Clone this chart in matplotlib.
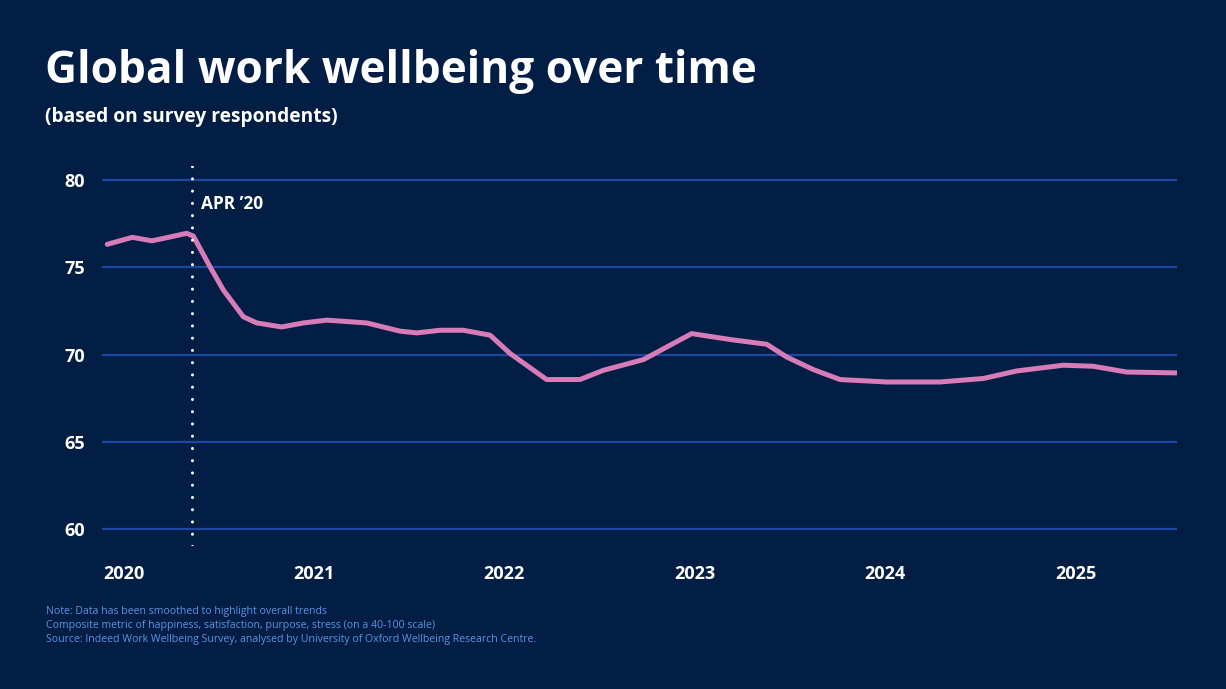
import matplotlib.pyplot as plt

# decimal years, with the wellbeing score at each vertex
years = [2019.914, 2020.046, 2020.148, 2020.235, 2020.331, 2020.366, 2020.454,
         2020.524, 2020.629, 2020.699, 2020.830, 2020.944, 2021.067, 2021.277,
         2021.452, 2021.540, 2021.662, 2021.784, 2021.925, 2022.030, 2022.222,
         2022.397, 2022.520, 2022.730, 2022.984, 2023.186, 2023.378, 2023.483,
         2023.623, 2023.763, 2024.008, 2024.288, 2024.516, 2024.691, 2024.936,
         2025.093, 2025.269, 2025.531]
score = [76.32, 76.72, 76.52, 76.72, 76.95, 76.79, 75.03,
         73.70, 72.17, 71.82, 71.59, 71.82, 71.98, 71.82,
         71.35, 71.25, 71.40, 71.40, 71.12, 70.07, 68.58,
         68.58, 69.11, 69.72, 71.21, 70.87, 70.60, 69.87,
         69.15, 68.58, 68.44, 68.44, 68.64, 69.07, 69.40,
         69.34, 69.01, 68.96]

year_ticks = [2020, 2021, 2022, 2023, 2024, 2025]
score_ticks = [60, 65, 70, 75, 80]
marker_year = 2020.361
marker_label = "APR \u201920"

title = "Global work wellbeing over time"
subtitle = "(based on survey respondents)"
notes = ["Note: Data has been smoothed to highlight overall trends",
         "Composite metric of happiness, satisfaction, purpose, stress (on a 40-100 scale)",
         "Source: Indeed Work Wellbeing Survey, analysed by University of Oxford Wellbeing Research Centre."]

bg = "#021e44"
grid_col = "#1d47a3"
pink = "#d87bb9"
note_col = "#5f91e6"

plt.rcParams['font.family'] = ['Open Sans', 'DejaVu Sans']

fig = plt.figure(figsize=(12.26, 6.89), dpi=100)
fig.set_facecolor(bg)
ax = fig.add_axes([0.083, 0.2075, 0.877, 0.5515])
ax.set_facecolor(bg)

ax.plot(years, score, color=pink, lw=3.6, solid_joinstyle='round',
        solid_capstyle='round', zorder=3)
ax.axvline(marker_year, color='white', lw=2.2, linestyle=(0, (0.01, 4)),
           dash_capstyle='round', zorder=4)
ax.annotate(marker_label, (marker_year, 78.6), xytext=(6, 0),
            textcoords='offset points', color='white', fontsize=12.5,
            fontweight='bold', va='center', ha='left')

ax.set_xlim(2019.885, 2025.533)
ax.set_ylim(59.05, 80.8)
ax.set_xticks(year_ticks)
ax.set_yticks(score_ticks)
ax.set_xticklabels([str(y) for y in year_ticks])
ax.grid(axis='y', color=grid_col, lw=1.6)
ax.set_axisbelow(True)
ax.tick_params(length=0, colors='white', labelsize=13)
ax.tick_params(axis='x', pad=14)
ax.tick_params(axis='y', pad=12)
for lab in ax.get_xticklabels() + ax.get_yticklabels():
    lab.set_fontweight('bold')
for s in ax.spines.values():
    s.set_visible(False)

fig.text(45 / 1226, 1 - 83 / 689, title, color='white', fontsize=31.8,
         fontweight='bold', va='baseline')
fig.text(45 / 1226, 1 - 122 / 689, subtitle, color='white', fontsize=13.8,
         fontweight='bold', va='baseline')
for i, n in enumerate(notes):
    fig.text(46 / 1226, 1 - (614 + 14 * i) / 689, n, color=note_col,
             fontsize=7.55, va='baseline')

fig.savefig('out.png', dpi=100, facecolor=bg)
